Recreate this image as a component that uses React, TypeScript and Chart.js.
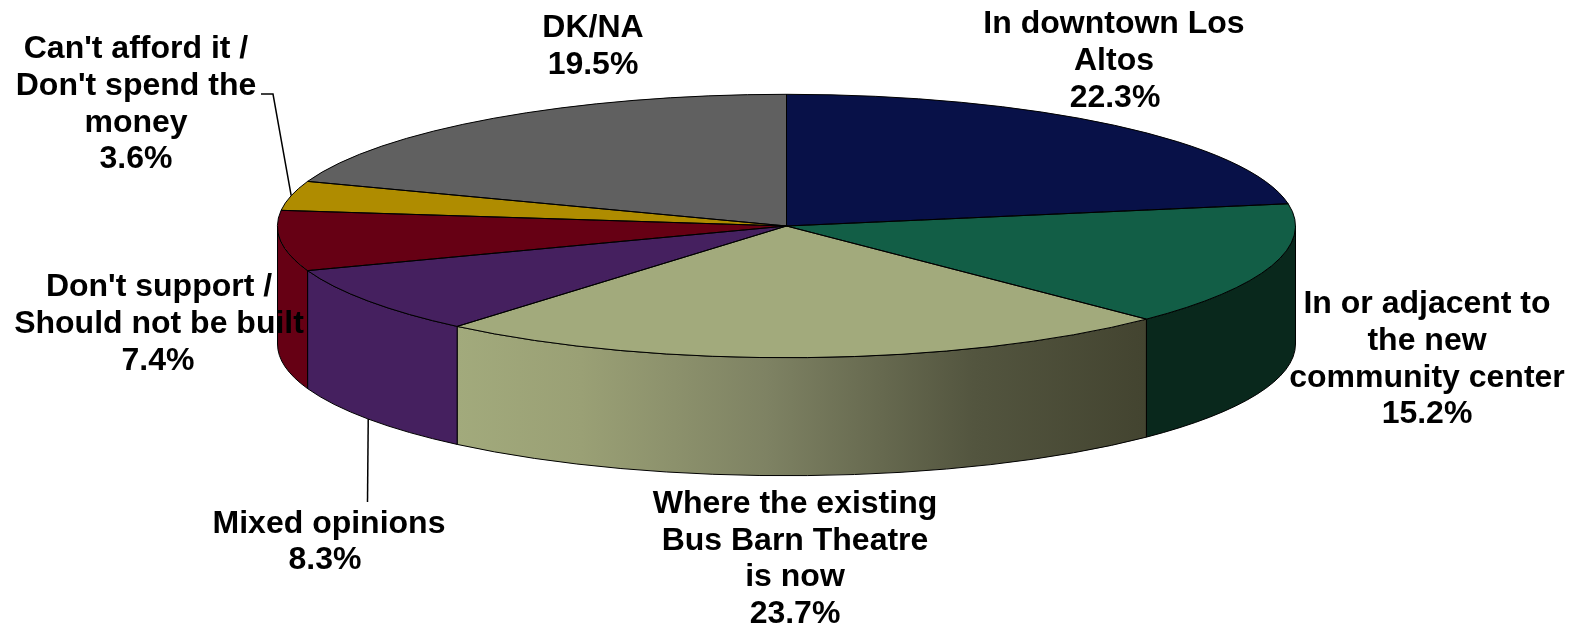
import React, { useEffect, useRef } from "react";
import { Chart, registerables } from "chart.js";

Chart.register(...registerables);

const categories = [
  ["In downtown Los", "Altos"],
  ["In or adjacent to", "the new", "community center"],
  ["Where the existing", "Bus Barn Theatre", "is now"],
  ["Mixed opinions"],
  ["Don't support /", "Should not be built"],
  ["Can't afford it /", "Don't spend the", "money"],
  ["DK/NA"],
];
const values = [22.3, 15.2, 23.7, 8.3, 7.4, 3.6, 19.5];
const topColors = ["#081148", "#125E46", "#A2AA7C", "#45205F", "#660014", "#AF8C00", "#606060"];
const wallColors = ["#040924", "#09281C", null, "#45205F", "#660014", "#AF8C00", "#606060"];
const wallGradient: [number, string][] = [
  [0, "#A2AA7C"],
  [0.18, "#9AA075"],
  [0.45, "#7E8263"],
  [0.75, "#53553F"],
  [1, "#434430"],
];
// centre x, first baseline and x shift of the percentage line of every label
const labelAnchors = [
  [1114, 33, 1],
  [1427, 313, 0],
  [795, 512.7, 0],
  [329, 532.5, -4],
  [159, 296, -1],
  [136, 58, 0],
  [593, 37, 0],
];
const leaders: Record<number, [number, number][]> = {
  3: [[367.5, 502]],
  5: [[261, 94], [273, 94]],
};
const RX = 509;
const RY = 131.7;
const DEPTH = 118;
const FONT = 'bold 32px "Liberation Sans", Arial, sans-serif';
const LINE_HEIGHT = 36.8;

const squashPie = {
  id: "squashPie",
  beforeDatasetsDraw(chart: any) {
    const ctx = chart.ctx;
    const arcs = chart.getDatasetMeta(0).data;
    const { x: cx, y: cy } = arcs[0];
    ctx.save();
    ctx.strokeStyle = "#000";
    ctx.lineWidth = 1;
    arcs.forEach((arc: any, i: number) => {
      const a1 = Math.max(arc.startAngle, 0);
      const a2 = Math.min(arc.endAngle, Math.PI);
      if (a2 <= a1) return;
      ctx.beginPath();
      ctx.ellipse(cx, cy, RX, RY, 0, a1, a2);
      ctx.ellipse(cx, cy + DEPTH, RX, RY, 0, a2, a1, true);
      ctx.closePath();
      if (wallColors[i]) {
        ctx.fillStyle = wallColors[i];
      } else {
        const g = ctx.createLinearGradient(cx + RX * Math.cos(a2), 0, cx + RX * Math.cos(a1), 0);
        wallGradient.forEach(([s, c]) => g.addColorStop(s, c));
        ctx.fillStyle = g;
      }
      ctx.fill();
      ctx.stroke();
    });
    ctx.restore();
  },
  beforeDatasetDraw(chart: any) {
    const ctx = chart.ctx;
    const arc = chart.getDatasetMeta(0).data[0];
    ctx.save();
    ctx.translate(arc.x, arc.y);
    ctx.scale(RX / arc.outerRadius, RY / arc.outerRadius);
    ctx.translate(-arc.x, -arc.y);
  },
  afterDatasetDraw(chart: any) {
    chart.ctx.restore();
  },
  afterDatasetsDraw(chart: any) {
    const ctx = chart.ctx;
    const arcs = chart.getDatasetMeta(0).data;
    const { x: cx, y: cy } = arcs[0];
    ctx.save();
    ctx.strokeStyle = "#000";
    ctx.lineWidth = 1;
    arcs.forEach((arc: any) => {
      ctx.beginPath();
      ctx.moveTo(cx, cy);
      ctx.ellipse(cx, cy, RX, RY, 0, arc.startAngle, arc.endAngle);
      ctx.closePath();
      ctx.stroke();
    });
    // leader lines, anchored on the rim at the slice's mid angle
    ctx.lineWidth = 1.5;
    Object.entries(leaders).forEach(([key, pts]) => {
      const arc = arcs[Number(key)];
      const mid = (arc.startAngle + arc.endAngle) / 2;
      const rimY = cy + RY * Math.sin(mid) + (Math.sin(mid) > 0 ? DEPTH : 0);
      ctx.beginPath();
      pts.forEach(([x, y]: number[], n: number) => (n ? ctx.lineTo(x, y) : ctx.moveTo(x, y)));
      ctx.lineTo(cx + RX * Math.cos(mid), rimY);
      ctx.stroke();
    });
    // labels
    ctx.fillStyle = "#000";
    ctx.font = FONT;
    ctx.textAlign = "center";
    ctx.textBaseline = "alphabetic";
    categories.forEach((lines, i) => {
      const [x, y, pctDx] = labelAnchors[i];
      lines.forEach((t, n) => ctx.fillText(t, x, y + n * LINE_HEIGHT));
      ctx.fillText(values[i].toFixed(1) + "%", x + pctDx, y + lines.length * LINE_HEIGHT);
    });
    ctx.restore();
  },
};

export default function App() {
  const ref = useRef<HTMLCanvasElement>(null);
  useEffect(() => {
    const chart = new Chart(ref.current!, {
      type: "pie",
      data: {
        labels: categories.map((c) => c.join(" ")),
        datasets: [
          {
            data: values,
            backgroundColor: topColors,
            borderWidth: 0,
            clip: false,
          } as any,
        ],
      },
      options: {
        responsive: false,
        animation: false,
        layout: { padding: { left: 0, top: 0, right: 2, bottom: 175 } },
        plugins: { legend: { display: false }, tooltip: { enabled: false }, title: { display: false } },
      },
      plugins: [squashPie],
    });
    return () => chart.destroy();
  }, []);
  return (
    <div style={{ position: "absolute", left: 0, top: 0, width: 1575, height: 627, background: "#fff" }}>
      <canvas ref={ref} width={1575} height={627} style={{ display: "block" }} />
    </div>
  );
}
